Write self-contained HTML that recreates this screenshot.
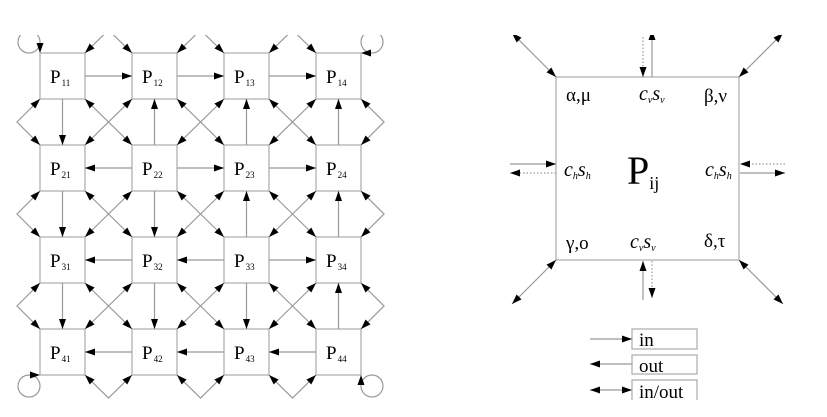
<!DOCTYPE html>
<html><head><meta charset="utf-8"><style>
html,body{margin:0;padding:0;background:#fff;}
svg{display:block;font-family:"Liberation Serif",serif;}
</style></head><body>
<svg width="827" height="417" viewBox="0 0 827 417" xmlns="http://www.w3.org/2000/svg">
<defs>
<marker id="a" viewBox="0 0 10 7" refX="10" refY="3.5" markerWidth="10" markerHeight="7" markerUnits="userSpaceOnUse" orient="auto-start-reverse"><path d="M0,0 L10,3.5 L0,7 z" fill="#000"/></marker>
<clipPath id="c"><rect x="0" y="35" width="827" height="382"/></clipPath>
</defs>
<g clip-path="url(#c)" stroke="#999" stroke-width="1.2" fill="none">
<g stroke="#aaa">
<rect x="40" y="53" width="45" height="46"/><rect x="132" y="53" width="45" height="46"/><rect x="224" y="53" width="45" height="46"/><rect x="316" y="53" width="45" height="46"/>
<rect x="40" y="145" width="45" height="46"/><rect x="132" y="145" width="45" height="46"/><rect x="224" y="145" width="45" height="46"/><rect x="316" y="145" width="45" height="46"/>
<rect x="40" y="237" width="45" height="46"/><rect x="132" y="237" width="45" height="46"/><rect x="224" y="237" width="45" height="46"/><rect x="316" y="237" width="45" height="46"/>
<rect x="40" y="329" width="45" height="46"/><rect x="132" y="329" width="45" height="46"/><rect x="224" y="329" width="45" height="46"/><rect x="316" y="329" width="45" height="46"/>
</g>
<g marker-end="url(#a)">
<line x1="85" y1="76" x2="132" y2="76"/><line x1="177" y1="76" x2="224" y2="76"/><line x1="269" y1="76" x2="316" y2="76"/>
<line x1="132" y1="168" x2="85" y2="168"/><line x1="177" y1="168" x2="224" y2="168"/><line x1="269" y1="168" x2="316" y2="168"/>
<line x1="132" y1="260" x2="85" y2="260"/><line x1="224" y1="260" x2="177" y2="260"/><line x1="269" y1="260" x2="316" y2="260"/>
<line x1="132" y1="352" x2="85" y2="352"/><line x1="224" y1="352" x2="177" y2="352"/><line x1="316" y1="352" x2="269" y2="352"/>
<line x1="62.5" y1="99" x2="62.5" y2="145"/><line x1="62.5" y1="191" x2="62.5" y2="237"/><line x1="62.5" y1="283" x2="62.5" y2="329"/>
<line x1="154.5" y1="145" x2="154.5" y2="99"/><line x1="154.5" y1="191" x2="154.5" y2="237"/><line x1="154.5" y1="283" x2="154.5" y2="329"/>
<line x1="246.5" y1="145" x2="246.5" y2="99"/><line x1="246.5" y1="237" x2="246.5" y2="191"/><line x1="246.5" y1="283" x2="246.5" y2="329"/>
<line x1="338.5" y1="145" x2="338.5" y2="99"/><line x1="338.5" y1="237" x2="338.5" y2="191"/><line x1="338.5" y1="329" x2="338.5" y2="283"/>
</g>
<g marker-start="url(#a)" marker-end="url(#a)">
<line x1="85" y1="99" x2="132" y2="145"/><line x1="132" y1="99" x2="85" y2="145"/>
<line x1="177" y1="99" x2="224" y2="145"/><line x1="224" y1="99" x2="177" y2="145"/>
<line x1="269" y1="99" x2="316" y2="145"/><line x1="316" y1="99" x2="269" y2="145"/>
<line x1="85" y1="191" x2="132" y2="237"/><line x1="132" y1="191" x2="85" y2="237"/>
<line x1="177" y1="191" x2="224" y2="237"/><line x1="224" y1="191" x2="177" y2="237"/>
<line x1="269" y1="191" x2="316" y2="237"/><line x1="316" y1="191" x2="269" y2="237"/>
<line x1="85" y1="283" x2="132" y2="329"/><line x1="132" y1="283" x2="85" y2="329"/>
<line x1="177" y1="283" x2="224" y2="329"/><line x1="224" y1="283" x2="177" y2="329"/>
<line x1="269" y1="283" x2="316" y2="329"/><line x1="316" y1="283" x2="269" y2="329"/>
<path d="M40,99 L17,122 L40,145"/><path d="M40,191 L17,214 L40,237"/><path d="M40,283 L17,306 L40,329"/>
<path d="M361,99 L384,122 L361,145"/><path d="M361,191 L384,214 L361,237"/><path d="M361,283 L384,306 L361,329"/>
<path d="M85,53 L108.5,30 L132,53"/><path d="M177,53 L200.5,30 L224,53"/><path d="M269,53 L292.5,30 L316,53"/>
<path d="M85,375 L108.5,398 L132,375"/><path d="M177,375 L200.5,398 L224,375"/><path d="M269,375 L292.5,398 L316,375"/>
</g>
<circle cx="29" cy="42" r="11"/><circle cx="29" cy="386" r="11"/>
<circle cx="372" cy="42" r="11"/><circle cx="372" cy="386" r="11"/>
</g>
<g fill="#000">
<polygon points="40,53 36.5,43 43.5,43"/>
<polygon points="40,375 30,371.5 30,378.5"/>
<polygon points="361,53 371,49.5 371,56.5"/>
<polygon points="361,375 357.5,385 364.5,385"/>
</g>
<g font-size="19" fill="#000">
<text x="50" y="83">P<tspan font-size="9" dx="1" dy="3">11</tspan></text>
<text x="142" y="83">P<tspan font-size="9" dx="1" dy="3">12</tspan></text>
<text x="234" y="83">P<tspan font-size="9" dx="1" dy="3">13</tspan></text>
<text x="326" y="83">P<tspan font-size="9" dx="1" dy="3">14</tspan></text>
<text x="50" y="175">P<tspan font-size="9" dx="1" dy="3">21</tspan></text>
<text x="142" y="175">P<tspan font-size="9" dx="1" dy="3">22</tspan></text>
<text x="234" y="175">P<tspan font-size="9" dx="1" dy="3">23</tspan></text>
<text x="326" y="175">P<tspan font-size="9" dx="1" dy="3">24</tspan></text>
<text x="50" y="267">P<tspan font-size="9" dx="1" dy="3">31</tspan></text>
<text x="142" y="267">P<tspan font-size="9" dx="1" dy="3">32</tspan></text>
<text x="234" y="267">P<tspan font-size="9" dx="1" dy="3">33</tspan></text>
<text x="326" y="267">P<tspan font-size="9" dx="1" dy="3">34</tspan></text>
<text x="50" y="359">P<tspan font-size="9" dx="1" dy="3">41</tspan></text>
<text x="142" y="359">P<tspan font-size="9" dx="1" dy="3">42</tspan></text>
<text x="234" y="359">P<tspan font-size="9" dx="1" dy="3">43</tspan></text>
<text x="326" y="359">P<tspan font-size="9" dx="1" dy="3">44</tspan></text>
</g>

<g clip-path="url(#c)" stroke="#999" stroke-width="1.2" fill="none">
<rect x="556" y="77" width="183" height="183" stroke="#aaa"/>
<g marker-start="url(#a)" marker-end="url(#a)">
<line x1="512" y1="33" x2="556" y2="77"/>
<line x1="783" y1="33" x2="739" y2="77"/>
<line x1="512" y1="304" x2="556" y2="260"/>
<line x1="783" y1="304" x2="739" y2="260"/>
</g>
<g marker-end="url(#a)">
<line x1="652" y1="77" x2="652" y2="30"/>
<line x1="643" y1="30" x2="643" y2="77" stroke-dasharray="1.5,2"/>
<line x1="510" y1="164" x2="556" y2="164"/>
<line x1="556" y1="173" x2="510" y2="173" stroke-dasharray="1.5,2"/>
<line x1="785" y1="164" x2="740" y2="164" stroke-dasharray="1.5,2"/>
<line x1="740" y1="173" x2="785" y2="173"/>
<line x1="643" y1="300" x2="643" y2="261"/>
<line x1="652" y1="261" x2="652" y2="298" stroke-dasharray="1.5,2"/>
<line x1="590" y1="339" x2="632" y2="339"/>
<line x1="632" y1="364" x2="590" y2="364"/>
</g>
<line x1="590" y1="390" x2="632" y2="390" marker-start="url(#a)" marker-end="url(#a)"/>
<rect x="632" y="329" width="65" height="20" stroke="#aaa"/>
<rect x="632" y="355" width="65" height="19" stroke="#aaa"/>
<path d="M632,400 L632,380 L697,380 L697,400" stroke="#aaa"/>
</g>
<g fill="#000" font-size="19">
<text x="566" y="101">α,μ</text>
<text x="704" y="102">β,ν</text>
<text x="566" y="249">γ,o</text>
<text x="704" y="247">δ,τ</text>
<text x="639" y="100" font-style="italic" font-size="20">c<tspan font-size="10" dy="3">v</tspan><tspan dy="-3">s</tspan><tspan font-size="10" dy="3">v</tspan></text>
<text x="630" y="248" font-style="italic" font-size="20">c<tspan font-size="10" dy="3">v</tspan><tspan dy="-3">s</tspan><tspan font-size="10" dy="3">v</tspan></text>
<text x="564" y="176" font-style="italic" font-size="20">c<tspan font-size="10" dy="3">h</tspan><tspan dy="-3">s</tspan><tspan font-size="10" dy="3">h</tspan></text>
<text x="705" y="176" font-style="italic" font-size="20">c<tspan font-size="10" dy="3">h</tspan><tspan dy="-3">s</tspan><tspan font-size="10" dy="3">h</tspan></text>
<text x="627" y="184" font-size="40">P<tspan font-size="18" dy="5">ij</tspan></text>
<text x="639" y="346" font-size="19">in</text>
<text x="639" y="372" font-size="19">out</text>
<text x="639" y="398" font-size="19">in/out</text>
</g>
</svg>
</body></html>
